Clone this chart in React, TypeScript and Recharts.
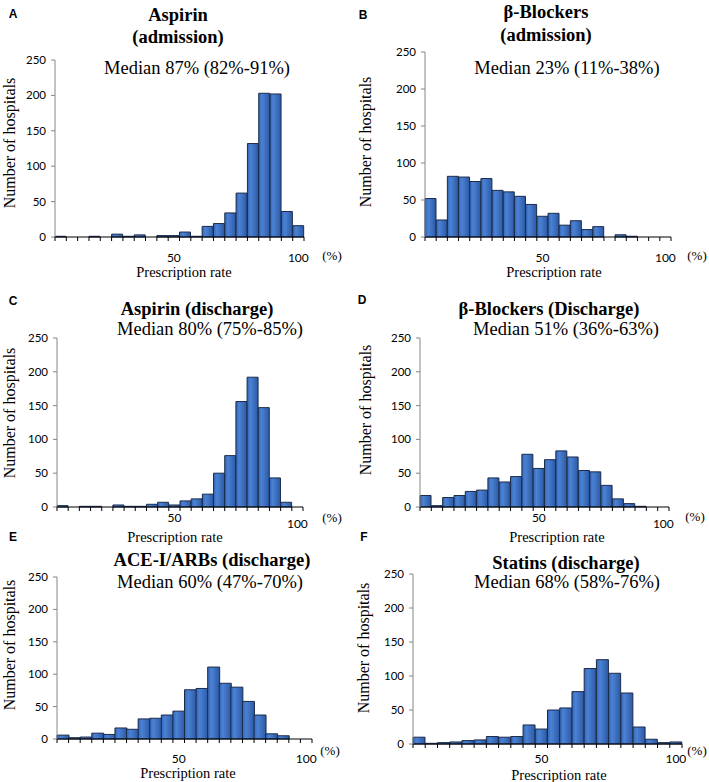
import React from "react";
import { BarChart, Bar, XAxis, YAxis } from "recharts";

// ---------- data ----------
const bins = [
  "b01", "b02", "b03", "b04", "b05", "b06", "b07", "b08", "b09", "b10", "b11",
  "b12", "b13", "b14", "b15", "b16", "b17", "b18", "b19", "b20", "b21", "b22",
];
const xTickLabels = [
  "", "", "", "", "", "", "", "", "", "", "50",
  "", "", "", "", "", "", "", "", "", "", "100",
];
const yTicks = [0, 50, 100, 150, 200, 250];

const aspirinAdmission = [1, 0, 0, 1, 0, 4, 1, 3, 0, 2, 2, 7, 1, 15, 19, 34, 62, 132, 203, 202, 36, 16];
const betaBlockersAdmission = [52, 23, 82, 81, 75, 79, 63, 61, 55, 44, 28, 32, 16, 22, 10, 14, 0, 3, 1, 0, 0, 0];
const aspirinDischarge = [2, 0, 1, 1, 0, 3, 1, 1, 4, 7, 3, 9, 12, 19, 50, 76, 156, 192, 147, 43, 7, 0];
const betaBlockersDischarge = [17, 2, 14, 17, 23, 25, 43, 37, 45, 78, 57, 70, 83, 74, 54, 52, 32, 12, 5, 1, 0, 0];
const aceArbDischarge = [6, 2, 3, 9, 7, 17, 15, 31, 32, 37, 43, 76, 78, 111, 86, 80, 58, 37, 8, 5, 0, 0];
const statinsDischarge = [10, 1, 2, 3, 5, 6, 11, 10, 11, 28, 22, 50, 53, 77, 111, 124, 104, 75, 25, 7, 2, 3];

const panelLetters = ["A", "B", "C", "D", "E", "F"];
const panelTitles = [
  ["Aspirin", "(admission)"],
  ["β-Blockers", "(admission)"],
  ["Aspirin (discharge)"],
  ["β-Blockers (Discharge)"],
  ["ACE-I/ARBs (discharge)"],
  ["Statins (discharge)"],
];
const medianTexts = [
  "Median 87% (82%-91%)",
  "Median 23% (11%-38%)",
  "Median 80% (75%-85%)",
  "Median 51% (36%-63%)",
  "Median 60% (47%-70%)",
  "Median 68% (58%-76%)",
];
const seriesList = [
  aspirinAdmission,
  betaBlockersAdmission,
  aspirinDischarge,
  betaBlockersDischarge,
  aceArbDischarge,
  statinsDischarge,
];
const yAxisTitle = "Number of hospitals";
const xAxisTitle = "Prescription rate";
const unitText = "(%)";

// ---------- layout (positions / sizes) ----------
type Pt = [number, number];
interface Layout {
  plot: { x: number; y: number; w: number; h: number };
  letter: Pt;
  titles: Pt[];
  median: Pt;
  ylabel: Pt;
  xlabel: Pt;
  unit: Pt;
  tickDy: number[]; // dy for "50" and "100"
}
const layouts: Layout[] = [
  {
    plot: { x: 55, y: 60, w: 249, h: 177 },
    letter: [13, 14],
    titles: [[178, 15], [178, 37]],
    median: [197, 68],
    ylabel: [10, 143],
    xlabel: [184, 272],
    unit: [332, 255],
    tickDy: [20, 20],
  },
  {
    plot: { x: 425, y: 52, w: 246, h: 185 },
    letter: [363, 15],
    titles: [[546, 12], [546, 35]],
    median: [567, 68],
    ylabel: [366, 142],
    xlabel: [554, 272],
    unit: [697, 255],
    tickDy: [20, 20],
  },
  {
    plot: { x: 57, y: 338, w: 246, h: 169 },
    letter: [13, 301],
    titles: [[197, 309]],
    median: [210, 329],
    ylabel: [10, 413],
    xlabel: [175, 537],
    unit: [332, 517],
    tickDy: [10, 16],
  },
  {
    plot: { x: 420, y: 338, w: 249, h: 169 },
    letter: [362, 300],
    titles: [[549, 309]],
    median: [566, 329],
    ylabel: [366, 410],
    xlabel: [557, 537],
    unit: [695, 516],
    tickDy: [10, 16],
  },
  {
    plot: { x: 57, y: 577, w: 255, h: 162 },
    letter: [13, 537],
    titles: [[212, 560]],
    median: [210, 582],
    ylabel: [10, 645],
    xlabel: [188, 773],
    unit: [330, 750],
    tickDy: [19, 19],
  },
  {
    plot: { x: 413, y: 574, w: 269, h: 170 },
    letter: [364, 537],
    titles: [[566, 563]],
    median: [567, 582],
    ylabel: [364, 648],
    xlabel: [559, 775],
    unit: [697, 750],
    tickDy: [14, 14],
  },
];

const SERIF = "'Liberation Serif', 'Times New Roman', serif";
const SANS = "Lato, 'Liberation Sans', Arial, sans-serif";

const TextAt: React.FC<{
  p: Pt;
  size: number;
  bold?: boolean;
  family?: string;
  rotate?: boolean;
  children: React.ReactNode;
}> = ({ p, size, bold, family, rotate, children }) => (
  <div
    style={{
      position: "absolute",
      left: p[0],
      top: p[1],
      transform: `translate(-50%, -50%)${rotate ? " rotate(-90deg)" : ""}`,
      whiteSpace: "nowrap",
      fontFamily: family || SERIF,
      fontSize: size,
      fontWeight: bold ? 700 : 400,
      lineHeight: 1,
      color: "#000",
    }}
  >
    {children}
  </div>
);

const makeTick = (bw: number, dys: number[]) => (props: any) => {
  const { x, y, index } = props;
  const label = xTickLabels[index];
  const isLast = index === bins.length - 1;
  const dy = isLast ? dys[1] : dys[0];
  return (
    <g>
      <line x1={x - bw / 2} x2={x - bw / 2} y1={y} y2={y + 4} stroke="#000" strokeWidth={1} />
      {isLast && <line x1={x + bw / 2} x2={x + bw / 2} y1={y} y2={y + 4} stroke="#000" strokeWidth={1} />}
      {label ? (
        <text
          x={x}
          y={y + dy}
          textAnchor="middle"
          dominantBaseline="central"
          fontFamily={SANS}
          fontSize={12}
          fill="#000"
        >
          {label}
        </text>
      ) : null}
    </g>
  );
};

const Panel: React.FC<{ i: number }> = ({ i }) => {
  const L = layouts[i];
  const values = seriesList[i];
  const data = bins.map((b, k) => ({ bin: b, count: values[k] }));
  const left = 50;
  const top = 10;
  const bw = L.plot.w / bins.length;
  const gid = `barGrad${i}`;
  return (
    <>
      <div style={{ position: "absolute", left: L.plot.x - left, top: L.plot.y - top }}>
        <BarChart
          width={L.plot.w + left + 10}
          height={L.plot.h + top + 30}
          data={data}
          margin={{ top, right: 10, left: 0, bottom: 0 }}
          barCategoryGap={0}
          barGap={0}
        >
          <defs>
            <linearGradient id={gid} x1="0" y1="0" x2="1" y2="0">
              <stop offset="0%" stopColor="#3466b6" />
              <stop offset="30%" stopColor="#4b82d4" />
              <stop offset="100%" stopColor="#2c59a5" />
            </linearGradient>
          </defs>
          <XAxis
            dataKey="bin"
            height={30}
            interval={0}
            tickSize={0}
            tickMargin={0}
            tickLine={false}
            axisLine={{ stroke: "#000", strokeWidth: 1 }}
            tick={makeTick(bw, L.tickDy)}
          />
          <YAxis
            width={left}
            domain={[0, 250]}
            ticks={yTicks}
            interval={0}
            tickSize={4}
            tickMargin={5}
            axisLine={{ stroke: "#868686", strokeWidth: 1 }}
            tickLine={{ stroke: "#868686", strokeWidth: 1 }}
            tick={{ fill: "#000", fontSize: 11.5, fontFamily: SANS }}
          />
          <Bar
            dataKey="count"
            fill={`url(#${gid})`}
            stroke="#1c2b4a"
            strokeWidth={1}
            isAnimationActive={false}
          />
        </BarChart>
      </div>
      <TextAt p={L.letter} size={12} bold family="'Liberation Sans', Arial, sans-serif">
        {panelLetters[i]}
      </TextAt>
      {panelTitles[i].map((t, k) => (
        <TextAt key={k} p={L.titles[k]} size={18.5} bold>
          {t}
        </TextAt>
      ))}
      <TextAt p={L.median} size={18.5}>
        {medianTexts[i]}
      </TextAt>
      <TextAt p={L.ylabel} size={16} rotate>
        {yAxisTitle}
      </TextAt>
      <TextAt p={L.xlabel} size={14.5}>
        {xAxisTitle}
      </TextAt>
      <TextAt p={L.unit} size={13}>
        {unitText}
      </TextAt>
    </>
  );
};

export default function App() {
  return (
    <div
      style={{
        position: "absolute",
        left: 0,
        top: 0,
        width: 709,
        height: 782,
        background: "#fff",
        overflow: "hidden",
      }}
    >
      {panelLetters.map((_, i) => (
        <Panel key={i} i={i} />
      ))}
    </div>
  );
}
